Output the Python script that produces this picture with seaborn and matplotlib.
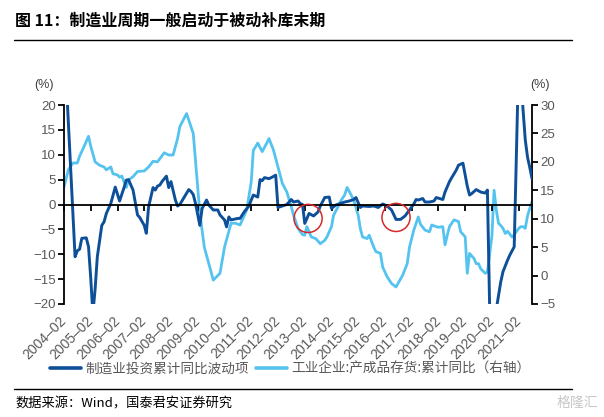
import numpy as np
import pandas as pd
import matplotlib
matplotlib.use("Agg")
import matplotlib.pyplot as plt
from matplotlib.lines import Line2D
import seaborn as sns

# ---------------- data ----------------
mfg_dates = [
    "2004-02", "2004-07", "2004-08", "2004-09", "2004-10", "2004-12", "2005-01", "2005-02",
    "2005-03", "2005-04", "2005-05", "2005-07", "2005-08", "2005-09", "2005-11", "2006-01",
    "2006-03", "2006-05", "2006-06", "2006-07", "2006-09", "2006-11", "2006-12", "2007-02",
    "2007-03", "2007-04", "2007-06", "2007-07", "2007-08", "2007-09", "2007-10", "2007-12",
    "2008-01", "2008-02", "2008-04", "2008-05", "2008-06", "2008-08", "2008-10", "2008-11",
    "2008-12", "2009-01", "2009-03", "2009-04", "2009-06", "2009-07", "2009-09", "2009-11",
    "2009-12", "2010-02", "2010-03", "2010-04", "2010-05", "2010-08", "2010-09", "2010-11",
    "2011-01", "2011-02", "2011-03", "2011-05", "2011-06", "2011-07", "2011-08", "2011-10",
    "2011-11", "2012-01", "2012-02", "2012-04", "2012-06", "2012-08", "2012-09", "2012-11",
    "2012-12", "2013-01", "2013-02", "2013-04", "2013-06", "2013-08", "2013-09", "2013-11",
    "2014-01", "2014-02", "2014-04", "2014-06", "2014-08", "2014-10", "2014-12", "2015-01",
    "2015-03", "2015-04", "2015-07", "2015-09", "2015-11", "2016-01", "2016-03", "2016-05",
    "2016-07", "2016-09", "2016-11", "2017-01", "2017-03", "2017-04", "2017-05", "2017-07",
    "2017-08", "2017-10", "2017-12", "2018-01", "2018-04", "2018-05", "2018-07", "2018-08",
    "2018-10", "2018-11", "2019-01", "2019-02", "2019-03", "2019-04", "2019-05", "2019-07",
    "2019-09", "2019-11", "2019-12", "2020-02", "2020-03", "2020-04", "2020-06", "2020-07",
    "2020-09", "2020-10", "2020-12", "2021-02", "2021-03", "2021-04", "2021-05", "2021-06",
    "2021-07", "2021-08",
]
mfg_values = [
    34.0, -10.5, -9.3, -9.0, -6.8, -6.7, -8.5, -15.0,
    -22.0, -17.0, -10.5, -4.2, -3.5, -1.8, 0.2, 3.5,
    0.7, 3.4, 4.9, 5.0, 2.9, -2.1, -2.6, -4.2,
    -5.8, -0.5, 3.4, 2.9, 3.7, 3.9, 4.6, 5.7,
    3.4, 4.6, 0.9, -0.3, 0.0, 1.5, 3.0, 2.6,
    2.0, 0.2, -4.2, -0.8, 0.9, -0.1, -1.1, -1.1,
    -2.1, -3.1, -4.5, -2.5, -3.1, -2.8, -2.8, -1.4,
    -0.3, 0.9, 1.9, 1.5, 5.0, 4.8, 5.4, 5.2,
    5.4, 5.9, -0.6, -0.3, 0.0, 1.0, 0.5, 0.7,
    0.2, 0.0, -3.8, -1.8, -2.3, -1.5, -0.3, 1.4,
    1.5, -0.8, -0.1, 0.2, 0.5, 0.7, 1.0, 1.4,
    -0.6, -0.3, -0.4, -0.3, -0.6, 0.1, -0.3, -1.1,
    -3.0, -3.0, -2.3, -1.1, 0.1, 1.0, 0.9, 1.2,
    0.5, 0.5, 0.7, 1.4, 1.0, 2.5, 4.6, 5.4,
    6.9, 7.9, 8.3, 5.9, 3.7, 1.9, 2.2, 3.0,
    2.5, 2.3, 2.9, -45.0, -35.0, -21.0, -15.5, -13.5,
    -11.2, -10.2, -8.5, 30.0, 26.0, 19.0, 13.0, 9.5,
    7.5, 5.2,
]

inv_dates = [
    "2004-02", "2004-04", "2004-06", "2004-08", "2004-09", "2004-11", "2005-01", "2005-02",
    "2005-04", "2005-06", "2005-08", "2005-09", "2005-11", "2005-12", "2006-02", "2006-03",
    "2006-04", "2006-06", "2006-07", "2006-09", "2006-11", "2007-02", "2007-04", "2007-06",
    "2007-08", "2007-11", "2008-01", "2008-03", "2008-05", "2008-06", "2008-09", "2008-12",
    "2009-03", "2009-05", "2009-09", "2009-12", "2010-02", "2010-05", "2010-07", "2010-09",
    "2010-12", "2011-02", "2011-03", "2011-05", "2011-07", "2011-09", "2011-10", "2011-12",
    "2012-02", "2012-04", "2012-06", "2012-08", "2012-09", "2012-11", "2013-01", "2013-02",
    "2013-03", "2013-05", "2013-07", "2013-09", "2013-11", "2013-12", "2014-02", "2014-03",
    "2014-05", "2014-06", "2014-08", "2014-09", "2014-10", "2014-12", "2015-02", "2015-03",
    "2015-04", "2015-06", "2015-07", "2015-09", "2015-10", "2015-12", "2016-01", "2016-03",
    "2016-05", "2016-07", "2016-08", "2016-10", "2016-12", "2017-01", "2017-03", "2017-05",
    "2017-06", "2017-08", "2017-10", "2017-11", "2018-01", "2018-02", "2018-04", "2018-05",
    "2018-06", "2018-07", "2018-09", "2018-11", "2018-12", "2019-02", "2019-03", "2019-04",
    "2019-06", "2019-07", "2019-08", "2019-09", "2019-11", "2019-12", "2020-02", "2020-03",
    "2020-04", "2020-05", "2020-06", "2020-07", "2020-08", "2020-09", "2020-11", "2020-12",
    "2021-02", "2021-03", "2021-04", "2021-05", "2021-06", "2021-07", "2021-08",
]
inv_values = [
    15.6, 18.6, 19.8, 19.8, 21.0, 22.7, 24.5, 22.7,
    20.0, 19.4, 19.1, 18.6, 19.1, 17.9, 17.7, 17.3,
    17.5, 15.5, 16.8, 17.4, 18.3, 18.4, 19.1, 20.1,
    20.0, 21.6, 21.2, 21.2, 24.1, 26.2, 28.5, 25.0,
    11.0, 5.0, -0.8, 0.4, 5.0, 9.2, 9.2, 8.9,
    11.5, 16.5, 22.0, 23.3, 21.8, 23.3, 24.1, 22.1,
    19.1, 16.2, 14.7, 12.1, 10.6, 8.3, 7.2, 7.1,
    8.6, 6.8, 6.5, 5.6, 6.2, 6.8, 8.6, 10.6,
    12.1, 13.0, 14.2, 15.5, 14.8, 13.3, 10.6, 8.3,
    6.8, 6.5, 7.1, 5.0, 4.2, 3.9, 1.5, -0.2,
    -1.4, -2.0, -1.3, 0.1, 2.1, 5.0, 8.0, 10.3,
    9.0, 8.0, 7.7, 8.9, 8.6, 8.5, 8.6, 5.4,
    7.1, 8.6, 9.8, 9.5, 7.7, 6.8, 0.4, 3.9,
    3.0, 2.1, 2.1, 1.2, 0.4, 0.6, 7.0, 15.0,
    11.5, 9.2, 8.8, 8.3, 7.4, 7.8, 6.8, 7.2,
    8.3, 8.6, 8.6, 8.3, 10.5, 11.8, 13.0,
]

tick_dates = [
    "2004-02", "2005-02", "2006-02", "2007-02", "2008-02", "2009-02", "2010-02", "2011-02",
    "2012-02", "2013-02", "2014-02", "2015-02", "2016-02", "2017-02", "2018-02", "2019-02",
    "2020-02", "2021-02",
]
tick_labels = [
    "2004–02", "2005–02", "2006–02", "2007–02", "2008–02", "2009–02", "2010–02", "2011–02",
    "2012–02", "2013–02", "2014–02", "2015–02", "2016–02", "2017–02", "2018–02", "2019–02",
    "2020–02", "2021–02",
]
left_ticks = [-20, -15, -10, -5, 0, 5, 10, 15, 20]
right_ticks = [-5, 0, 5, 10, 15, 20, 25, 30]

circle_dates = ["2013-03-18", "2016-07-01"]
circle_values = [-2.8, -2.6]

series_names = ["制造业投资累计同比波动项", "工业企业:产成品存货:累计同比（右轴）"]
title_text = "图 11：制造业周期一般启动于被动补库末期"
source_text = "数据来源：Wind，国泰君安证券研究"

DARK = "#0D4F98"
LIGHT = "#55C3EF"
GRAY = "#595959"
CJK = ["Noto Sans CJK SC", "DejaVu Sans"]

# ---------------- style ----------------
sns.set_theme(style="white")
plt.rcParams["font.family"] = ["Liberation Sans", "Noto Sans CJK SC", "DejaVu Sans"]
plt.rcParams["axes.unicode_minus"] = True

W, H = 604, 417
fig = plt.figure(figsize=(W / 100, H / 100), dpi=100)
ax = fig.add_axes([64 / W, 1 - 304 / H, (532 - 64) / W, (304 - 105) / H])
ax2 = ax.twinx()

df_m = pd.DataFrame({"date": pd.to_datetime(mfg_dates), "value": mfg_values})
df_i = pd.DataFrame({"date": pd.to_datetime(inv_dates), "value": inv_values})

sns.lineplot(data=df_i, x="date", y="value", ax=ax2, color=LIGHT, linewidth=2.0,
             label=series_names[1], legend=False)
sns.lineplot(data=df_m, x="date", y="value", ax=ax, color=DARK, linewidth=2.1,
             label=series_names[0], legend=False)
ax.scatter(pd.to_datetime(circle_dates), circle_values, s=410, facecolors="none",
           edgecolors="#D42A2A", linewidths=1.1, zorder=6)

ax.set_zorder(ax2.get_zorder() + 1)
ax.patch.set_visible(False)

ax.set_xlim(pd.Timestamp("2004-02-01"), pd.Timestamp("2021-08-01"))
ax.set_ylim(-20, 20)
ax2.set_ylim(-5, 30)
ax.set_xlabel("")
ax.set_ylabel("")
ax2.set_ylabel("")

# spines
for s in ["top", "right"]:
    ax.spines[s].set_visible(False)
for s in ["top", "left", "bottom"]:
    ax2.spines[s].set_visible(False)
ax.spines["bottom"].set_position(("data", 0))
for sp in [ax.spines["left"], ax.spines["bottom"], ax2.spines["right"]]:
    sp.set_color("black")
    sp.set_linewidth(1.3)

ax.set_yticks(left_ticks)
ax.set_yticklabels([str(v) if v >= 0 else "\u2212" + str(-v) for v in left_ticks])
ax2.set_yticks(right_ticks)
ax2.set_yticklabels([str(v) if v >= 0 else "\u2212" + str(-v) for v in right_ticks])
ax.tick_params(axis="y", left=True, direction="out", length=4, width=1.3, color="black",
               labelcolor=GRAY, labelsize=9.5, pad=2)
ax2.tick_params(axis="y", right=True, direction="out", length=4, width=1.3, color="black",
                labelcolor=GRAY, labelsize=9.5, pad=2)

ax.set_xticks(pd.to_datetime(tick_dates))
ax.set_xticklabels(tick_labels, rotation=45, ha="right", va="center", rotation_mode="anchor")
ax.tick_params(axis="x", bottom=True, direction="out", length=4, width=1.3, color="black",
               labelcolor=GRAY, labelsize=10, pad=78)
ax.grid(False)
ax2.grid(False)

# axis unit labels
fig.text(44 / W, 1 - 85 / H, "(%)", ha="center", va="center", fontsize=9, color="#404040")
fig.text(540 / W, 1 - 85 / H, "(%)", ha="center", va="center", fontsize=9, color="#404040")

# title, rules, source
fig.text(15 / W, 1 - 21 / H, title_text, ha="left", va="center", fontsize=11.5,
         fontweight="bold", family=CJK, color="black")
fig.add_artist(Line2D([14 / W, 572 / W], [1 - 40 / H, 1 - 40 / H], color="black", lw=1.0))
fig.add_artist(Line2D([14 / W, 572 / W], [1 - 389 / H, 1 - 389 / H], color="black", lw=1.0))
fig.text(15 / W, 1 - 404 / H, source_text, ha="left", va="center", fontsize=9.5,
         family=CJK, color="black")
fig.text(598 / W, 1 - 403 / H, "格隆汇", ha="right", va="center", fontsize=10,
         family=CJK, color="#C8C8C8")

# legend
handles = [Line2D([], [], color=DARK, lw=2.6), Line2D([], [], color=LIGHT, lw=2.6)]
leg = fig.legend(handles, series_names, loc="center", bbox_to_anchor=(290 / W, 1 - 369 / H),
                 ncol=2, frameon=False, handlelength=2.3, handletextpad=0.3,
                 columnspacing=0.5, prop={"family": CJK, "size": 9.8})
for t in leg.get_texts():
    t.set_color(GRAY)

fig.savefig("out.png", dpi=100)
